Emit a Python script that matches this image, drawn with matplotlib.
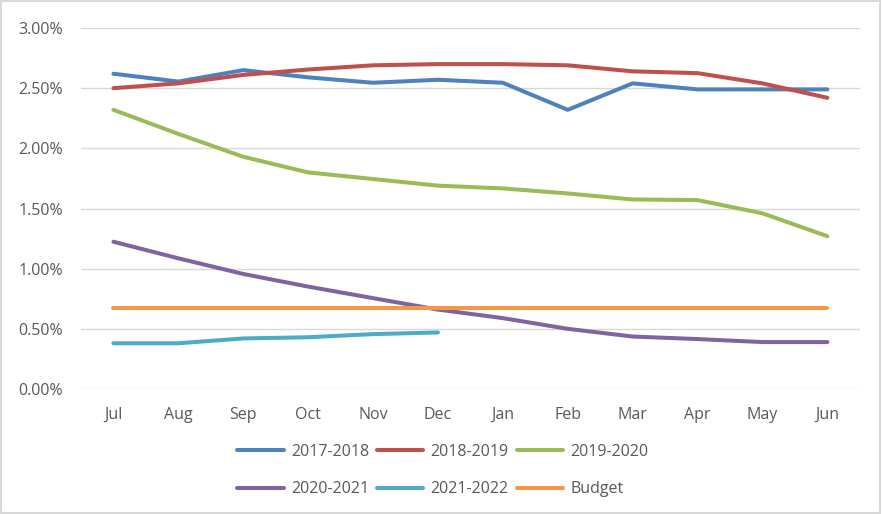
import matplotlib
matplotlib.use("Agg")
import matplotlib.pyplot as plt
from matplotlib.ticker import FuncFormatter
from matplotlib.patches import Rectangle

months = ["Jul", "Aug", "Sep", "Oct", "Nov", "Dec", "Jan", "Feb", "Mar", "Apr", "May", "Jun"]
s2017 = [2.62, 2.555, 2.65, 2.59, 2.545, 2.57, 2.545, 2.32, 2.54, 2.49, 2.49, 2.49]
s2018 = [2.50, 2.54, 2.61, 2.655, 2.69, 2.70, 2.70, 2.69, 2.64, 2.625, 2.54, 2.42]
s2019 = [2.32, 2.12, 1.93, 1.80, 1.745, 1.69, 1.667, 1.625, 1.575, 1.57, 1.46, 1.27]
s2020 = [1.224, 1.086, 0.956, 0.851, 0.755, 0.66, 0.589, 0.50, 0.436, 0.415, 0.39, 0.39]
s2021 = [0.38, 0.38, 0.42, 0.43, 0.456, 0.47]
budget = [0.672] * 12

series = [
    ("2017-2018", s2017, "#4F81BD"),
    ("2018-2019", s2018, "#C0504D"),
    ("2019-2020", s2019, "#9BBB59"),
    ("2020-2021", s2020, "#8064A2"),
    ("2021-2022", s2021, "#4BACC6"),
    ("Budget", budget, "#F79646"),
]

plt.rcParams['font.family'] = ['Open Sans', 'DejaVu Sans']
fig = plt.figure(figsize=(8.82, 5.14), dpi=100)
ax = fig.add_axes([0.0918, 0.2432, 0.883, 0.7023])

handles = []
for name, vals, col in series:
    h, = ax.plot(range(len(vals)), vals, color=col, lw=2.9, solid_capstyle='round',
                 solid_joinstyle='round', label=name)
    handles.append(h)

ax.set_xlim(-0.5, 11.5)
ax.set_ylim(0, 3.0)
ax.set_yticks([0, 0.5, 1.0, 1.5, 2.0, 2.5, 3.0])
ax.yaxis.set_major_formatter(FuncFormatter(lambda v, p: f"{v:.2f}%"))
ax.set_xticks(range(12))
ax.set_xticklabels(months)
ax.grid(axis='y', color='#D9D9D9', lw=1)
ax.set_axisbelow(True)
for sp in ax.spines.values():
    sp.set_visible(False)
ax.tick_params(axis='both', length=0, colors='#595959', labelsize=11.5)
ax.tick_params(axis='x', pad=13)
ax.tick_params(axis='y', pad=13)

order = [0, 3, 1, 4, 2, 5]
leg = fig.legend([handles[i] for i in order], [series[i][0] for i in order],
                 loc='center', bbox_to_anchor=(0.502, 0.085), ncol=3, frameon=False,
                 fontsize=11.5, handlelength=2.9, columnspacing=0.5, handletextpad=0.45,
                 labelspacing=1.35)
for t in leg.get_texts():
    t.set_color('#595959')

fig.patches.append(Rectangle((0.001, 0.001), 0.997, 0.997, transform=fig.transFigure,
                             fill=False, edgecolor='#D9D9D9', lw=1.5))
fig.savefig("out.png", dpi=100, facecolor='white')
